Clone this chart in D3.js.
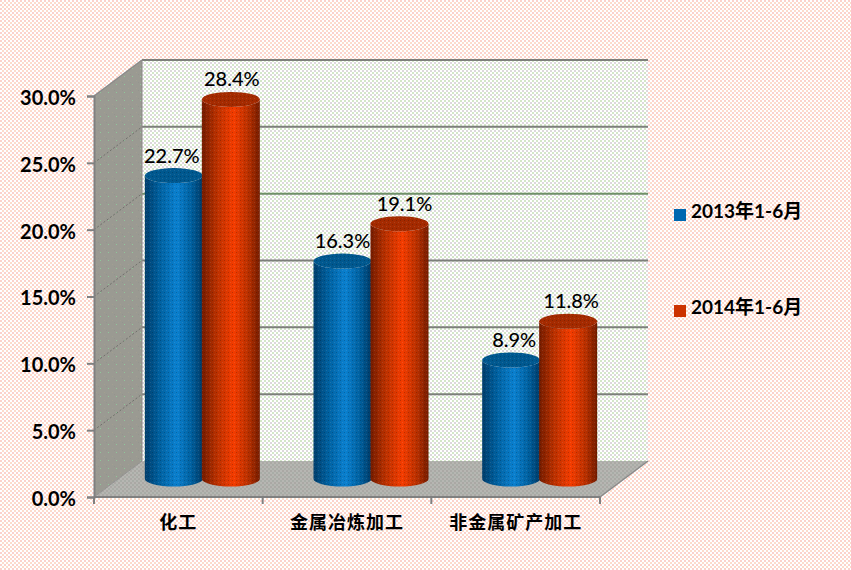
<!DOCTYPE html>
<html><head><meta charset="utf-8">
<script src="https://cdn.jsdelivr.net/npm/d3@7/dist/d3.min.js"></script>
<style>
html,body{margin:0;padding:0;background:#fff}
svg{display:block}
text{fill:#000}
</style></head><body><svg id="c" width="851" height="570"></svg>
<script>
const categories = ["化工","金属冶炼加工","非金属矿产加工"];
const seriesNames = ["2013年1-6月","2014年1-6月"];
const values2013 = [22.7,16.3,8.9];
const values2014 = [28.4,19.1,11.8];
const yTicks = [0,5,10,15,20,25,30];

const W=851,H=570;
const pL=94,pR=600,pB=497,pT=96,dx=48,dy=-36;
const rx=29,ry=7.5;
const svg=d3.select("#c");
const defs=svg.append("defs");

function dither(id,base,cells,size=4){
  const p=defs.append("pattern").attr("id",id).attr("width",size).attr("height",size).attr("patternUnits","userSpaceOnUse");
  p.append("rect").attr("width",size).attr("height",size).attr("fill",base);
  cells.forEach(c=>p.append("rect").attr("x",c[0]).attr("y",c[1]).attr("width",c[2]).attr("height",c[2]).attr("fill",c[3]).attr("shape-rendering","crispEdges"));
}
dither("pg","#ffffff",[[0,0,2,"#fbd2cc"],[2,2,2,"#fcdccb"]]);
dither("wl","#ffffff",[[0,0,2,"#d3e6c8"],[2,2,2,"#dcd8dc"]]);
dither("lw","#9a9a92",[[0,0,1,"#a2a090"],[2,2,1,"#94948e"],[4,4,1,"#8fc79a"]],8);
dither("fl","#b6b6b2",[[0,0,2,"#a8aca6"],[2,2,2,"#aaa8a4"]]);
dither("shade","rgba(0,0,0,0)",[[0,0,1,"rgba(0,0,0,.2)"],[2,2,1,"rgba(255,255,255,.10)"]],4);

const grads={b:["#003e6c","#00609f","#0a80cf","#00609f","#003a66"],r:["#741c00","#b83000","#f43c00","#b83000","#741c00"]};
Object.entries(grads).forEach(([k,st])=>{
  const g=defs.append("linearGradient").attr("id","g"+k);
  [0,.25,.55,.8,1].forEach((o,i)=>g.append("stop").attr("offset",o).attr("stop-color",st[i]));
});

svg.append("rect").attr("width",W).attr("height",H).attr("fill","url(#pg)");

const y=d3.scaleLinear().domain([0,30]).range([pB,pT]);
const x0=d3.scaleBand().domain(categories).range([pL,pR]);
const x1=d3.scaleBand().domain(seriesNames).range([-57,57]);
const line=d3.line();

// walls
svg.append("rect").attr("x",pL+dx).attr("y",pT+dy).attr("width",pR-pL).attr("height",pB-pT).attr("fill","url(#wl)");
svg.append("path").attr("d",line([[pL,y(30)],[pL+dx,y(30)+dy],[pL+dx,y(0)+dy],[pL,y(0)]])+"Z").attr("fill","url(#lw)");
svg.append("path").attr("d",line([[pL,y(0)],[pR,y(0)],[pR+dx,y(0)+dy],[pL+dx,y(0)+dy]])+"Z").attr("fill","url(#fl)");

// gridlines
yTicks.forEach(t=>{
  if(t>0) svg.append("line").attr("x1",pL+dx).attr("x2",pR+dx).attr("y1",y(t)+dy).attr("y2",y(t)+dy)
     .attr("stroke",t===20?"#6f8f68":"#7c7f7a").attr("stroke-width",2);
  if(t>0&&t<30) svg.append("line").attr("x1",pL).attr("x2",pL+dx).attr("y1",y(t)).attr("y2",y(t)+dy)
     .attr("stroke","#70706c").attr("stroke-width",1).attr("stroke-dasharray","2 2");
});
svg.append("line").attr("x1",pL+dx).attr("x2",pL+dx).attr("y1",y(30)+dy).attr("y2",y(0)+dy).attr("stroke","#8a8a86").attr("stroke-width",1);
svg.append("path").attr("d",line([[pR,y(0)],[pR+dx,y(0)+dy]])).attr("stroke","#8a8a8a").attr("fill","none").attr("stroke-width",1.5);
svg.append("path").attr("d",line([[pL,y(0)],[pL+dx,y(0)+dy]])).attr("stroke","#8f8f8f").attr("fill","none").attr("stroke-width",1);
svg.append("path").attr("d",line([[pL,y(30)],[pL+dx,y(30)+dy]])).attr("stroke","#8a8a8a").attr("fill","none").attr("stroke-width",1.5);

// axes
const yAxis=svg.append("g").attr("transform",`translate(${pL},0)`)
  .call(d3.axisLeft(y).tickValues(yTicks).tickSize(7).tickPadding(11).tickFormat(d=>d.toFixed(1)+"%"));
yAxis.selectAll("path").attr("stroke","#808080").attr("stroke-width",2);
yAxis.selectAll("line").attr("stroke","#808080").attr("stroke-width",2);
yAxis.selectAll("text").attr("font-family","Lato,'Open Sans',sans-serif").attr("font-weight",700).attr("font-size",20).attr("dy","0.42em");

const xAxis=svg.append("g").attr("transform",`translate(0,${pB})`)
  .call(d3.axisBottom(x0).tickSize(0).tickPadding(17));
xAxis.select("path").attr("stroke","#808080").attr("stroke-width",2).attr("d",`M${pL},0H${pR}`);
xAxis.selectAll("text").attr("font-family","'Noto Sans CJK SC',sans-serif").attr("font-weight",700).attr("font-size",18).attr("letter-spacing",1).attr("dy","0.82em");
[...categories.map(c=>x0(c)),pR].forEach(p=>xAxis.append("line").attr("x1",p).attr("x2",p).attr("y1",0).attr("y2",7).attr("stroke","#808080").attr("stroke-width",2));

// cylinders
const depthX=dx/2,depthY=dy/2;
categories.forEach((c,i)=>{
  [[seriesNames[0],values2013[i],"b","#00588f"],[seriesNames[1],values2014[i],"r","#a42a00"]].forEach(([s,v,k,topCol])=>{
    const cx=x0(c)+x0.bandwidth()/2+x1(s)+x1.bandwidth()/2+depthX;
    const yb=y(0)+depthY, yt=y(v)+depthY;
    const d=`M${cx-rx},${yt}L${cx-rx},${yb}A${rx},${ry} 0 0 0 ${cx+rx},${yb}L${cx+rx},${yt}A${rx},${ry} 0 0 1 ${cx-rx},${yt}Z`;
    svg.append("path").attr("d",d).attr("fill",`url(#g${k})`);
    svg.append("path").attr("d",d).attr("fill","url(#shade)");
    svg.append("ellipse").attr("cx",cx).attr("cy",yt).attr("rx",rx).attr("ry",ry).attr("fill",topCol);
    svg.append("ellipse").attr("cx",cx).attr("cy",yt).attr("rx",rx).attr("ry",ry).attr("fill","url(#shade)");
  });
});
// data labels drawn after all cylinders; the original's labels were hand-nudged
const nudge=[[-2,1],[0,5],[3,3]];
categories.forEach((c,i)=>{
  [[seriesNames[0],values2013[i]],[seriesNames[1],values2014[i]]].forEach(([s,v],j)=>{
    const cx=x0(c)+x0.bandwidth()/2+x1(s)+x1.bandwidth()/2+depthX;
    svg.append("text").attr("x",cx+nudge[i][j]).attr("y",y(v)+depthY-20).attr("dy","0.35em").attr("text-anchor","middle")
      .attr("font-family","Lato,'Open Sans',sans-serif").attr("font-weight",500).attr("font-size",20).text(v.toFixed(1)+"%");
  });
});

// legend
const legendY=d3.scalePoint().domain(seriesNames).range([214,310]);
const legendCol={[seriesNames[0]]:"#0068b0",[seriesNames[1]]:"#cc3300"};
seriesNames.forEach(s=>{
  svg.append("rect").attr("x",674).attr("y",legendY(s)-5).attr("width",12).attr("height",12).attr("fill",legendCol[s]);
  svg.append("text").attr("x",691).attr("y",legendY(s)-3).attr("dy","0.35em").attr("font-family","Lato,'Noto Sans CJK SC',sans-serif").attr("font-weight",700).attr("font-size",19).text(s);
});
</script></body></html>
